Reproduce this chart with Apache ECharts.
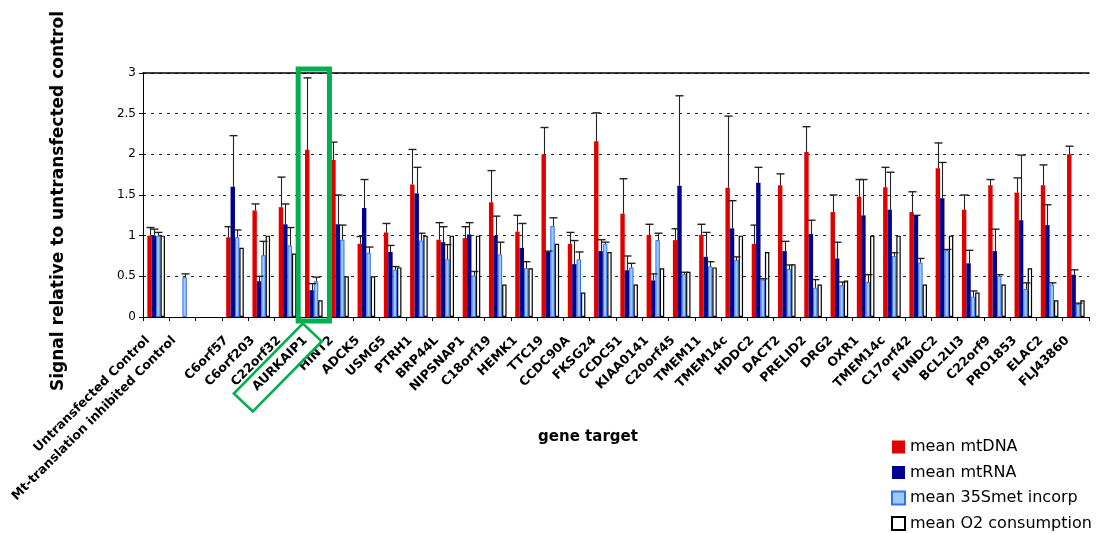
<!DOCTYPE html>
<html><head><meta charset="utf-8">
<script src="https://cdn.jsdelivr.net/npm/echarts@6/dist/echarts.min.js"></script>
<style>html,body{margin:0;padding:0;background:#fff}#c{width:1097px;height:533px}</style>
</head><body><div id="c"></div>
<script>
const categories = ['Untransfected Control','Mt-translation inhibited Control','','C6orf57','C6orf203','C22orf32','AURKAIP1','HINT2','ADCK5','USMG5','PTRH1','BRP44L','NIPSNAP1','C18orf19','HEMK1','TTC19','CCDC90A','FKSG24','CCDC51','KIAA0141','C20orf45','TMEM11','TMEM14c','HDDC2','DACT2','PRELID2','DRG2','OXR1','TMEM14c','C17orf42','FUNDC2','BCL2LI3','C22orf9','PRO1853','ELAC2','FLJ43860'];
const seriesNames = ['mean mtDNA','mean mtRNA','mean 35Smet incorp','mean O2 consumption'];
const mtDNA    = [1.0,null,null,0.98,1.31,1.35,2.055,1.93,0.90,1.04,1.63,0.95,0.97,1.41,1.05,2.00,0.90,2.16,1.27,1.01,0.945,1.01,1.59,0.90,1.62,2.03,1.29,1.48,1.595,1.29,1.83,1.32,1.62,1.53,1.62,2.00];
const mtDNAErr = [1.10,null,null,1.11,1.39,1.72,2.94,2.15,0.99,1.15,2.06,1.16,1.11,1.80,1.25,2.33,1.04,2.51,1.70,1.14,1.085,1.14,2.47,1.13,1.76,2.34,1.50,1.69,1.84,1.54,2.14,1.50,1.69,1.71,1.87,2.10];
const mtRNA    = [1.0,null,null,1.60,0.44,1.14,0.33,1.14,1.34,0.80,1.52,0.92,1.015,1.00,0.85,0.80,0.65,0.81,0.575,0.45,1.615,0.74,1.09,1.65,0.81,1.02,0.72,1.25,1.32,1.25,1.46,0.66,0.81,1.19,1.13,0.52];
const mtRNAErr = [1.08,null,null,2.23,0.50,1.39,0.41,1.50,1.69,0.88,1.84,1.11,1.16,1.24,1.15,0.81,0.94,0.95,0.75,0.53,2.72,1.04,1.43,1.84,0.93,1.19,0.92,1.69,1.78,1.25,1.90,0.82,1.08,1.99,1.38,0.58];
const smet     = [1.0,0.49,null,0.98,0.76,0.88,0.44,0.95,0.79,0.58,0.94,0.71,0.51,0.77,0.60,1.12,0.71,0.90,0.61,0.945,0.53,0.625,0.70,0.46,0.59,0.36,0.39,0.43,0.75,0.67,0.82,0.25,0.505,0.345,0.40,0.16];
const smetErr  = [1.04,0.53,null,1.07,0.93,1.10,0.49,1.13,0.86,0.62,1.03,0.89,0.56,0.92,0.68,1.22,0.80,0.92,0.66,1.03,0.55,0.68,0.74,0.47,0.64,0.46,0.43,0.52,0.79,0.72,0.83,0.32,0.52,0.42,0.42,0.17];
const o2       = [1.0,null,null,0.85,1.0,0.78,0.205,0.50,0.50,0.61,1.00,1.00,1.00,0.40,0.60,0.90,0.30,0.80,0.40,0.60,0.555,0.61,1.00,0.80,0.65,0.40,0.45,1.00,1.00,0.40,1.00,0.30,0.40,0.60,0.205,0.205];

const FONT = 'DejaVu Sans';
const BAR_FRAC = 0.1675;
const chart = echarts.init(document.getElementById('c'), null, {renderer:'canvas'});

function barSeries(name, data, style) {
  return {name, type:'bar', data, barWidth:(BAR_FRAC*100)+'%', barGap:'0%', itemStyle:style, silent:true, animation:false};
}
function errSeries(vals, errs, k) {
  const data = [];
  vals.forEach((v,i)=>{ if (v!=null && errs[i]!=null) data.push([i, v, errs[i]]); });
  return {type:'custom', silent:true, animation:false, z:5, data, encode:{x:0, y:[1,2]},
    renderItem(params, api) {
      const i = api.value(0), v = api.value(1), e = api.value(2);
      const slot = api.size([1,0])[0];
      const off = slot*BAR_FRAC*(k-1.5);
      const p1 = api.coord([i, v]), p2 = api.coord([i, e]);
      const x = Math.round(p1[0]+off)+0.5;
      return {type:'group', children:[
        {type:'line', shape:{x1:x,y1:p1[1],x2:x,y2:p2[1]}, style:{stroke:'#222', lineWidth:1.1}},
        {type:'line', shape:{x1:x-4,y1:p2[1],x2:x+4,y2:p2[1]}, style:{stroke:'#222', lineWidth:1.4}}
      ]};
    }};
}

chart.setOption({
  animation:false,
  backgroundColor:'#fff',
  textStyle:{fontFamily:FONT},
  grid:{left:143, right:8, top:73, bottom:216, containLabel:false},
  legend:{
    data:seriesNames, orient:'vertical', left:891, top:439, padding:0, itemWidth:13, itemHeight:13, itemGap:9.5, itemTextGap:6,
    icon:'rect',
    textStyle:{fontFamily:FONT, fontSize:16, lineHeight:16, color:'#000'}, selectedMode:false
  },
  xAxis:[{
    type:'category', data:categories, boundaryGap:true,
    axisLine:{lineStyle:{color:'#000', width:1}},
    axisTick:{show:true, interval:0, length:4, lineStyle:{color:'#000'}},
    axisLabel:{interval:0, rotate:45, margin:13, padding:[0,12,0,0], fontFamily:FONT, fontWeight:'bold', fontSize:12.6, color:'#000'},
    splitLine:{show:false}
  },{
    type:'category', data:categories, position:'top',
    axisLine:{lineStyle:{color:'#000', width:1.5}},
    axisTick:{show:false}, axisLabel:{show:false}, splitLine:{show:false}
  }],
  yAxis:{
    type:'value', min:0, max:3, interval:0.5,
    name:'Signal relative to untransfected control', nameLocation:'middle', nameGap:76,
    nameTextStyle:{fontFamily:FONT, fontWeight:'bold', fontSize:17, color:'#000', padding:[0,12,0,0]},
    axisLine:{show:true, lineStyle:{color:'#000'}},
    axisTick:{show:true, length:4, lineStyle:{color:'#000'}},
    axisLabel:{fontFamily:FONT, fontSize:12, color:'#000', margin:7},
    splitLine:{show:true, lineStyle:{color:'#222', type:[3,5], width:1}}
  },
  series:[
    barSeries(seriesNames[0], mtDNA, {color:'#e00000'}),
    barSeries(seriesNames[1], mtRNA, {color:'#000090'}),
    barSeries(seriesNames[2], smet, {color:'#99ccff', borderColor:'#3a6cf0', borderWidth:1}),
    barSeries(seriesNames[3], o2, {color:'#ffffff', borderColor:'#000', borderWidth:1.2}),
    errSeries(mtDNA, mtDNAErr, 0),
    errSeries(mtRNA, mtRNAErr, 1),
    errSeries(smet, smetErr, 2)
  ]
});

const cx = chart.convertToPixel({xAxisIndex:0}, 'AURKAIP1');
const cx2 = chart.convertToPixel({xAxisIndex:0}, 'HINT2');
const slot = cx2 - cx;
const yT = chart.convertToPixel({yAxisIndex:0}, 3);
const yB = chart.convertToPixel({yAxisIndex:0}, 0);
chart.setOption({graphic:[
  {type:'rect', z:100, silent:true, shape:{x:cx-slot/2-2.5, y:yT-4, width:slot+5, height:yB-yT+8}, style:{fill:'none', stroke:'#00b050', lineWidth:5}},
  {type:'polygon', z:100, silent:true, shape:{points:[[cx-11,yB+6.5],[cx+8,yB+24.5],[cx-61,yB+94.5],[cx-80,yB+76.5]]}, style:{fill:'none', stroke:'#00b050', lineWidth:2.5}},
  {type:'text', z:100, silent:true, x:588, y:437, style:{text:'gene target', fontFamily:FONT, fontWeight:'bold', fontSize:15, fill:'#000', align:'center', verticalAlign:'middle'}}
]});
</script></body></html>
